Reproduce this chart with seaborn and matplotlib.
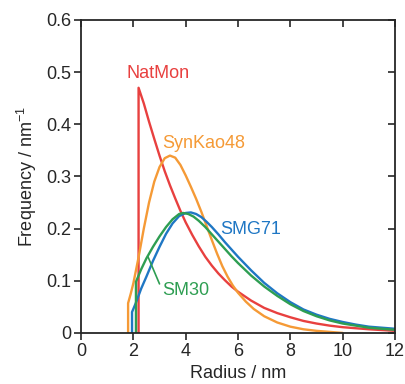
import numpy as np
import pandas as pd
import seaborn as sns
import matplotlib
matplotlib.use("Agg")
import matplotlib.pyplot as plt

# values (radius in nm, frequency in nm^-1)
natmon_r = [2.2, 2.2, 2.4, 2.6, 2.8, 3.0, 3.2, 3.4, 3.6, 3.8, 4.0, 4.25, 4.5, 4.75, 5.0, 5.25, 5.5,
            5.75, 6.0, 6.5, 7.0, 7.5, 8.0, 8.5, 9.0, 9.5, 10.0, 11.0, 12.0]
natmon_f = [0.0, 0.47, 0.44, 0.405, 0.372, 0.34, 0.31, 0.283, 0.258, 0.234, 0.212, 0.188, 0.166, 0.146,
            0.129, 0.114, 0.101, 0.089, 0.079, 0.062, 0.048, 0.038, 0.03, 0.023, 0.018, 0.014, 0.011,
            0.007, 0.004]

synkao_r = [1.8, 1.8, 1.9, 2.0, 2.2, 2.4, 2.6, 2.8, 3.0, 3.2, 3.4, 3.6, 3.8, 4.0, 4.2, 4.4, 4.6, 4.8,
            5.0, 5.2, 5.4, 5.6, 5.8, 6.0, 6.3, 6.6, 7.0, 7.5, 8.0, 8.5, 9.0, 9.5, 10.0]
synkao_f = [0.0, 0.057, 0.075, 0.095, 0.145, 0.2, 0.25, 0.29, 0.318, 0.335, 0.34, 0.336, 0.322, 0.302,
            0.28, 0.257, 0.232, 0.205, 0.178, 0.152, 0.128, 0.108, 0.091, 0.077, 0.06, 0.046, 0.032,
            0.02, 0.012, 0.007, 0.004, 0.002, 0.0]

smg71_r = [1.95, 1.95, 2.1, 2.3, 2.5, 2.75, 3.0, 3.25, 3.5, 3.75, 4.0, 4.2, 4.4, 4.6, 4.8, 5.0, 5.25,
           5.5, 5.75, 6.0, 6.5, 7.0, 7.5, 8.0, 8.5, 9.0, 9.5, 10.0, 10.5, 11.0, 11.5, 12.0]
smg71_f = [0.0, 0.04, 0.058, 0.085, 0.108, 0.138, 0.165, 0.19, 0.21, 0.224, 0.23, 0.231, 0.228, 0.222,
           0.213, 0.203, 0.189, 0.174, 0.16, 0.146, 0.12, 0.096, 0.076, 0.059, 0.045, 0.035, 0.027,
           0.021, 0.016, 0.012, 0.01, 0.008]

sm30_r = [2.1, 2.1, 2.3, 2.5, 2.75, 3.0, 3.25, 3.5, 3.75, 3.9, 4.1, 4.3, 4.5, 4.75, 5.0, 5.25, 5.5,
          5.75, 6.0, 6.5, 7.0, 7.5, 8.0, 8.5, 9.0, 9.5, 10.0, 10.5, 11.0, 11.5, 12.0]
sm30_f = [0.0, 0.098, 0.122, 0.143, 0.165, 0.185, 0.203, 0.218, 0.228, 0.23, 0.228, 0.223, 0.215, 0.203,
          0.189, 0.175, 0.161, 0.147, 0.134, 0.11, 0.089, 0.071, 0.055, 0.042, 0.032, 0.024, 0.018,
          0.014, 0.01, 0.008, 0.006]

colors = {"NatMon": "#e8403f", "SynKao48": "#f59a36", "SMG71": "#1f77c4", "SM30": "#2e9e52"}

frames = []
for name, r, f in [("NatMon", natmon_r, natmon_f), ("SynKao48", synkao_r, synkao_f),
                   ("SMG71", smg71_r, smg71_f), ("SM30", sm30_r, sm30_f)]:
    frames.append(pd.DataFrame({"radius": r, "freq": f, "sample": name}))
df = pd.concat(frames, ignore_index=True)

sns.set_style("ticks")
plt.rcParams["font.family"] = ["Liberation Sans", "DejaVu Sans"]
plt.rcParams["mathtext.default"] = "regular"

fig = plt.figure(figsize=(4.06, 3.84), dpi=100)
ax = fig.add_axes([0.1995, 0.133, 0.7735, 0.815])

for name in ["NatMon", "SynKao48", "SMG71", "SM30"]:
    sub = df[df["sample"] == name]
    sns.lineplot(data=sub, x="radius", y="freq", color=colors[name], sort=False,
                 estimator=None, linewidth=1.7, ax=ax)

ax.set_xlim(0, 12)
ax.set_ylim(0, 0.6)
ax.set_xticks(np.arange(0, 13, 2))
ax.set_yticks([0, 0.1, 0.2, 0.3, 0.4, 0.5, 0.6])
ax.set_yticklabels(["0", "0.1", "0.2", "0.3", "0.4", "0.5", "0.6"])
ax.tick_params(axis="both", which="both", labelsize=13, length=5, width=1.2, direction="out", pad=2)
ax.tick_params(top=True, right=True)
for t in ax.xaxis.get_major_ticks():
    t.tick2line.set_marker(3)  # top ticks point down into the axes
for t in ax.yaxis.get_major_ticks():
    t.tick2line.set_marker(0)  # right ticks point inward
for s in ax.spines.values():
    s.set_linewidth(1.3)

ax.set_xlabel("Radius / nm", fontsize=13, labelpad=4)
ax.set_ylabel("Frequency / nm$^{-1}$", fontsize=13, labelpad=5)

ax.text(2.95, 0.498, "NatMon", color=colors["NatMon"], fontsize=13, ha="center", va="center")
ax.text(4.7, 0.364, "SynKao48", color=colors["SynKao48"], fontsize=13, ha="center", va="center")
ax.text(6.5, 0.199, "SMG71", color=colors["SMG71"], fontsize=13, ha="center", va="center")
ax.text(3.1, 0.082, "SM30", color=colors["SM30"], fontsize=13, ha="left", va="center")
ax.plot([2.56, 3.0], [0.146, 0.094], color=colors["SM30"], linewidth=1.2)

fig.savefig("out.png", dpi=100)
